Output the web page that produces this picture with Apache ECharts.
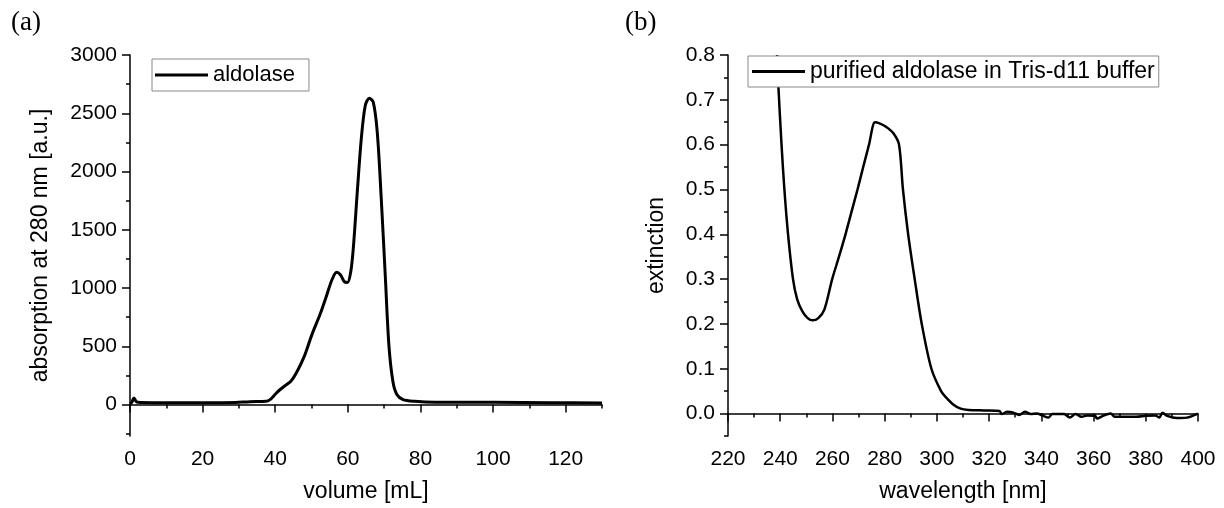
<!DOCTYPE html>
<html>
<head>
<meta charset="utf-8">
<script src="https://cdn.jsdelivr.net/npm/echarts@6/dist/echarts.min.js"></script>
<style>html,body{margin:0;padding:0;background:#fff}#c{width:1224px;height:508px}</style>
</head>
<body>
<div id="c"></div>
<script>
// (a) size-exclusion chromatogram
const volume = [0, 0.5, 1.1, 1.8, 3, 10, 20, 29, 33, 37.5, 38.5, 39.5, 40.5, 42.5, 44.3, 45.8, 48, 50.1, 52.3, 53.9, 55.6, 56.9, 58, 59, 59.9, 60.8, 61.5, 62.6, 63.7, 64.8, 65.9, 67, 68.1, 69.2, 70.3, 71.3, 72.4, 73.5, 75.2, 78.4, 84, 100, 116, 130];
const absorption = [5, 20, 57, 22, 18, 16, 16, 18, 25, 28, 40, 70, 105, 157, 200, 270, 413, 600, 770, 912, 1069, 1135, 1112, 1055, 1047, 1140, 1340, 1825, 2281, 2566, 2629, 2595, 2338, 1768, 1112, 513, 200, 86, 43, 28, 20, 20, 15, 14];
// (b) UV spectrum
const wavelength = [238.8, 239.3, 240.5, 241.6, 243.0, 244.9, 246.5, 248.5, 250.5, 252.4, 254.6, 256.9, 259.9, 262.5, 265.0, 267.3, 269.6, 272.0, 274.0, 276.3, 277.8, 280.5, 283.4, 285.5, 287.0, 289.0, 291.5, 294.2, 297.9, 301.6, 303.5, 306.1, 309.1, 312.1, 318, 324, 324.8, 327, 329.3, 331.5, 333.7, 336, 338.2, 340.4, 342.7, 344.2, 346.4, 348.7, 350.9, 353.1, 355.4, 357.6, 360.6, 361.3, 363.6, 366.6, 368.1, 371.8, 376.3, 380, 383.7, 385.2, 386.4, 388.2, 391.9, 395.7, 400];
const extinction = [0.80, 0.73, 0.60, 0.50, 0.40, 0.30, 0.255, 0.228, 0.213, 0.208, 0.213, 0.232, 0.30, 0.35, 0.40, 0.45, 0.50, 0.555, 0.60, 0.65, 0.648, 0.64, 0.625, 0.60, 0.50, 0.40, 0.30, 0.20, 0.10, 0.05, 0.036, 0.021, 0.011, 0.008, 0.007, 0.006, -0.001, 0.004, 0.002, -0.003, 0.004, -0.001, 0.0, -0.004, -0.009, -0.001, -0.001, -0.001, -0.009, -0.001, -0.007, -0.004, -0.005, -0.011, -0.005, 0.0, -0.007, -0.007, -0.007, -0.005, -0.004, -0.009, 0.002, -0.005, -0.010, -0.009, 0.0];

const volMajor = [0, 20, 40, 60, 80, 100, 120];
const volMinor = [10, 30, 50, 70, 90, 110, 130];
const absMajor = [0, 500, 1000, 1500, 2000, 2500, 3000];
const absMinor = [-250, 250, 750, 1250, 1750, 2250, 2750];
const wlMajor = [220, 240, 260, 280, 300, 320, 340, 360, 380, 400];
const wlMinor = [230, 250, 270, 290, 310, 330, 350, 370, 390];
const extMajor = [0.0, 0.1, 0.2, 0.3, 0.4, 0.5, 0.6, 0.7, 0.8];
const extMinor = [-0.05, 0.05, 0.15, 0.25, 0.35, 0.45, 0.55, 0.65, 0.75];

const FONT = "'Liberation Sans', Arial, sans-serif";
const SERIF = "'Liberation Serif', 'Times New Roman', serif";
const lineAx = {show: true, lineStyle: {color: '#000', width: 1.5}};

function majorAxis(gi, min, max, vals, pos, name, nameGap, fmt) {
  return {
    type: 'value', gridIndex: gi, min: min, max: max, position: pos,
    name: name, nameLocation: 'middle', nameGap: nameGap,
    nameTextStyle: {fontFamily: FONT, fontSize: 23, color: '#000'},
    axisLine: lineAx,
    axisTick: {show: true, inside: false, length: 8, customValues: vals, lineStyle: {color: '#000', width: 1.5}},
    axisLabel: {show: true, margin: 13, customValues: vals, fontFamily: FONT, fontSize: 21, color: '#000', formatter: fmt},
    splitLine: {show: false}
  };
}
function minorAxis(gi, min, max, vals, pos) {
  return {
    type: 'value', gridIndex: gi, min: min, max: max, position: pos,
    axisLine: {show: false},
    axisTick: {show: true, inside: false, length: 4, customValues: vals, lineStyle: {color: '#000', width: 1.5}},
    axisLabel: {show: false},
    splitLine: {show: false}
  };
}

const chart = echarts.init(document.getElementById('c'), null, {renderer: 'canvas'});
chart.setOption({
  animation: false,
  backgroundColor: '#fff',
  title: [
    {text: '(a)', left: 11, top: 9, padding: 0, textStyle: {fontFamily: SERIF, fontSize: 27, fontWeight: 'normal', color: '#000'}},
    {text: '(b)', left: 625, top: 9, padding: 0, textStyle: {fontFamily: SERIF, fontSize: 27, fontWeight: 'normal', color: '#000'}}
  ],
  grid: [
    {left: 130, top: 55, width: 472, height: 381.7},
    {left: 728, top: 55, width: 470, height: 381.7}
  ],
  legend: [
    {data: [{name: 'aldolase', icon: 'rect'}], left: 152, top: 59, itemWidth: 53, itemHeight: 3, itemGap: 5,
     padding: [5, 14, 5, 3], borderColor: '#888', borderWidth: 1, backgroundColor: '#fff',
     itemStyle: {color: '#000', borderWidth: 0},
     textStyle: {fontFamily: FONT, fontSize: 22, color: '#000'}},
    {data: [{name: 'purified aldolase in Tris-d11 buffer', icon: 'rect'}], left: 748, top: 56, itemWidth: 53, itemHeight: 3, itemGap: 6,
     padding: [4, 4, 4, 4], borderColor: '#888', borderWidth: 1, backgroundColor: '#fff',
     itemStyle: {color: '#000', borderWidth: 0},
     textStyle: {fontFamily: FONT, fontSize: 23, color: '#000'}}
  ],
  xAxis: [
    majorAxis(0, 0, 130, volMajor, 'bottom', 'volume [mL]', 44, v => String(v)),
    minorAxis(0, 0, 130, volMinor, 'bottom'),
    majorAxis(1, 220, 400, wlMajor, 'bottom', 'wavelength [nm]', 44, v => String(v)),
    minorAxis(1, 220, 400, wlMinor, 'bottom')
  ],
  yAxis: [
    majorAxis(0, -270, 3000, absMajor, 'left', 'absorption at 280 nm [a.u.]', 78, v => String(v)),
    minorAxis(0, -270, 3000, absMinor, 'left'),
    majorAxis(1, -0.05, 0.8, extMajor, 'left', 'extinction', 60, v => Number(v).toFixed(1)),
    minorAxis(1, -0.05, 0.8, extMinor, 'left')
  ],
  series: [
    {name: 'aldolase', type: 'line', xAxisIndex: 0, yAxisIndex: 0, showSymbol: false, symbol: 'none', smooth: 0.3,
     data: volume.map((v, i) => [v, absorption[i]]), lineStyle: {color: '#000', width: 3}, itemStyle: {color: '#000'}},
    {name: 'purified aldolase in Tris-d11 buffer', type: 'line', xAxisIndex: 2, yAxisIndex: 2, showSymbol: false, symbol: 'none', smooth: 0.3,
     data: wavelength.map((v, i) => [v, extinction[i]]), lineStyle: {color: '#000', width: 2.5}, itemStyle: {color: '#000'}}
  ]
});
</script>
</body>
</html>
